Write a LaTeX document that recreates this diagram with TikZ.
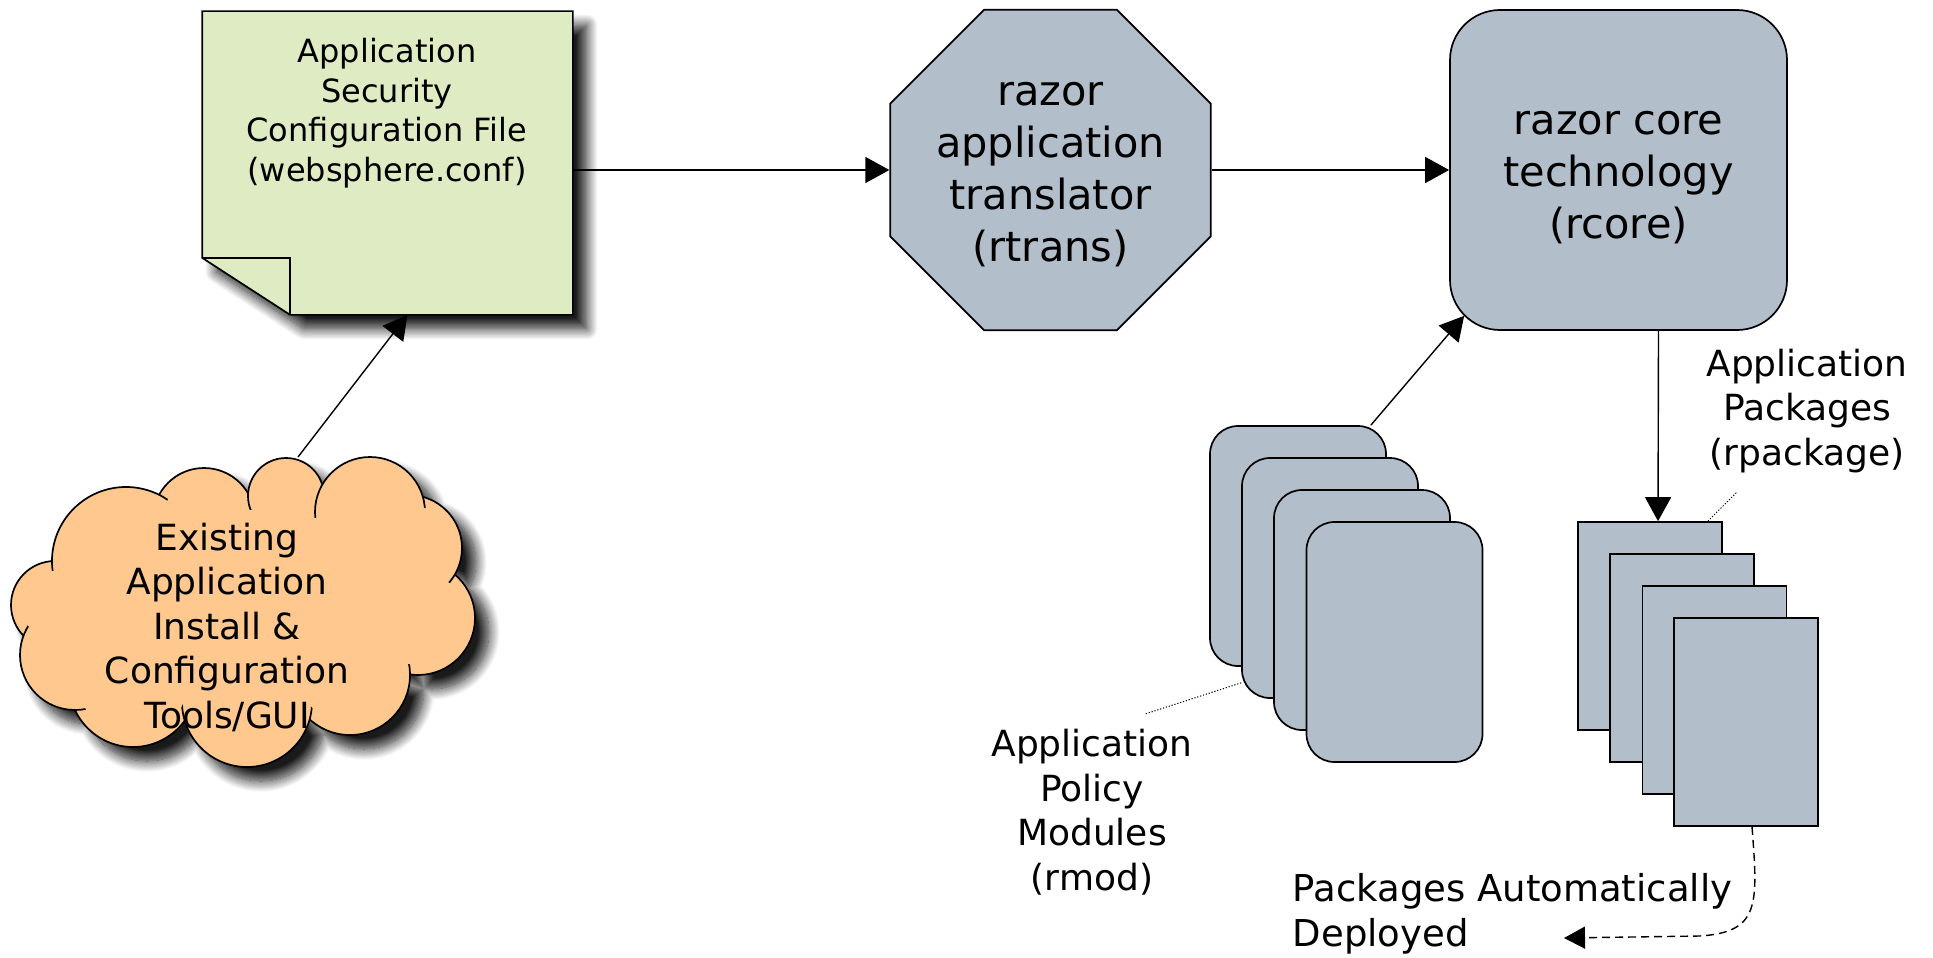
\documentclass[tikz,border=0pt]{standalone}
\usepackage{fontspec}
\setmainfont{DejaVu Sans}
\usetikzlibrary{shapes.geometric,arrows.meta,shadows.blur}

\definecolor{notegreen}{RGB}{223,235,194}
\definecolor{peach}{RGB}{254,200,143}
\definecolor{slate}{RGB}{178,191,203}

\newcommand\fsnote{\fontsize{32}{39.5}\selectfont}
\newcommand\fsbig{\fontsize{41.5}{52}\selectfont}
\newcommand\fslabel{\fontsize{36}{44.5}\selectfont}
\newcommand\fsdeploy{\fontsize{37}{44.5}\selectfont}

% puffs of the cloud: x/y/radius, listed in painting order
\def\cloudpuffs{204/519/51, 418/618/57, 133/683/64, 55/605/44, 286/496/38, 409/548/53, 350/675/60, 75/655/55, 126/561/74, 370/512/55, 247/702/65}

\begin{document}
\begin{tikzpicture}[x=1pt,y=-1pt,line width=1.7pt,
  arr/.style={line width=1.4pt, -{Triangle[length=24pt,width=26pt,fill=black,line join=miter]}},
  graybox/.style={draw, fill=slate, inner sep=0pt},
  modbox/.style={draw, fill=slate, rounded corners=28pt, minimum width=176pt, minimum height=240pt},
  pkbox/.style={draw, fill=slate, minimum width=144pt, minimum height=208pt},
  lbl/.style={align=center, font=\fslabel, inner sep=0pt},
  bigtext/.style={align=center, font=\fsbig, inner sep=0pt},
  leader/.style={line width=1pt, dash pattern=on 1.2pt off 1.8pt},
  softshadow/.style={blur shadow={shadow xshift=14pt, shadow yshift=-14pt, shadow blur radius=11pt, shadow blur steps=16, shadow opacity=90}}
]
\useasboundingbox (0,0) rectangle (1933,958);

% ---- cloud: existing tools ----
\path[softshadow] \foreach \cx/\cy/\r in \cloudpuffs {(\cx,\cy) circle [radius=\r]} (245,605) ellipse [x radius=175, y radius=95];
\foreach \cx/\cy/\r in \cloudpuffs { \filldraw[fill=peach] (\cx,\cy) circle [radius=\r]; }
\foreach \cx/\cy/\r in \cloudpuffs { \fill[peach] (\cx,\cy) circle [radius={\r-10}]; }
\fill[peach] (245,605) ellipse [x radius=175, y radius=95];
\node[lbl] (cloud) at (227,627) {Existing\\Application\\Install \&\\Configuration\\Tools/GUI};

% ---- configuration file (folded note) ----
\node[minimum width=369pt, minimum height=302pt, inner sep=0pt] (note) at (387.5,163) {};
\filldraw[fill=notegreen, softshadow] (note.north west) -- (note.north east) -- (note.south east)
  -- ([xshift=88pt]note.south west) -- ([yshift=57pt]note.south west) -- cycle;
\draw ([yshift=57pt]note.south west) -- ([xshift=88pt,yshift=57pt]note.south west) -- ([xshift=88pt]note.south west);
\node[align=center, font=\fsnote, inner sep=0pt] (notetext) at (387,113) {Application\\Security\\Configuration File\\(websphere.conf)};

% ---- translator and core ----
\node[graybox, regular polygon, regular polygon sides=8, minimum size=347pt] (oct) at (1050.5,170) {};
\node[bigtext] (octtext) at ([yshift=-5pt]oct.center) {razor\\application\\translator\\(rtrans)};
\node[graybox, rounded corners=50pt, minimum width=337pt, minimum height=320pt] (rcore) at (1618.5,170) {};
\node[bigtext] (rcoretext) at ([yshift=-8pt]rcore.center) {razor core\\technology\\(rcore)};

% ---- policy modules stack ----
\node[modbox] (m1) at (1298,546) {};
\node[modbox] (m2) at (1330,578) {};
\node[modbox] (m3) at (1362,610) {};
\node[modbox] (m4) at (1394.5,642) {};

% ---- packages stack ----
\node[pkbox] (pk1) at (1650,626) {};
\node[pkbox] (pk2) at (1682,658) {};
\node[pkbox] (pk3) at (1714.5,690) {};
\node[pkbox] (pk4) at (1746,722) {};

% ---- labels ----
\node[lbl] (modlbl) at (1092,812) {Application\\Policy\\Modules\\(rmod)};
\node[lbl] (pklbl) at (1807,411) {Application\\Packages\\(rpackage)};
\node[lbl, font=\fsdeploy, align=left, anchor=west] (deploy) at (1292,914) {Packages Automatically\\Deployed};

% ---- connectors ----
\coordinate (cloudtop) at (298,457);
\coordinate (modtip) at (1145,714);
\coordinate (pktip) at (1737,492);
\coordinate (deployend) at (1564,938);

\draw[arr] (note.east |- oct.west) -- (oct.west);
\draw[arr] (oct.east) -- (rcore.west);
\draw[arr] (cloudtop) -- ([xshift=20pt]note.south);
\draw[arr] ([xshift=-16pt]m1.north east) -- ([xshift=15pt,yshift=15pt]rcore.south west);
\draw[arr] ([xshift=40pt]rcore.south) -- ([xshift=8pt]pk1.north);
\draw[leader] ([yshift=16pt]m2.south west) -- (modtip);
\draw[leader] ([xshift=-15pt]pk1.north east) -- (pktip);
\draw[line width=1.4pt, -{Triangle[length=21pt,width=22pt,fill=black,line join=miter]}, dash pattern=on 8pt off 5pt]
  ([xshift=6pt]pk4.south) .. controls (1758,905) and (1760,932) .. (1700,936) -- (deployend);
\end{tikzpicture}
\end{document}
